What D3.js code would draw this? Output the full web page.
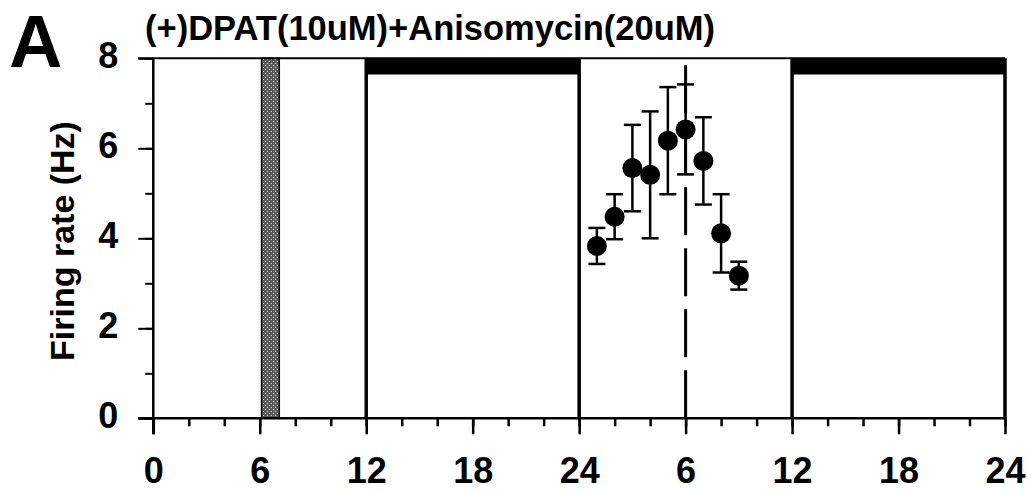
<!DOCTYPE html>
<html>
<head>
<meta charset="utf-8">
<script src="https://cdn.jsdelivr.net/npm/d3@7"></script>
<style>
  body { margin: 0; background: #fff; }
  text { font-family: "Liberation Sans", Arial, sans-serif; font-weight: bold; fill: #000; }
</style>
</head>
<body>
<script>
// data
var hours = [25, 26, 27, 28, 29, 30, 31, 32, 33];
var rate = [3.83, 4.48, 5.56, 5.41, 6.17, 6.42, 5.72, 4.11, 3.17];
var sem = [0.4, 0.5, 0.96, 1.41, 1.19, 1.0, 0.97, 0.87, 0.31];
var darkPeriods = [[12, 24], [36, 48]];
var drugPulse = [[6.1, 7.1]];
var dividers = [12, 24, 36, 48];
var dashedAt = [30];
var xTickValues = [0, 6, 12, 18, 24, 30, 36, 42, 48];
var xTickLabels = ["0", "6", "12", "18", "24", "6", "12", "18", "24"];
var yTickValues = [0, 2, 4, 6, 8];

var width = 1031, height = 491;

var svg = d3.select("body").append("svg")
    .attr("width", width)
    .attr("height", height);

var x = d3.scaleLinear().domain([0, 48]).range([153.3, 1005]);
var y = d3.scaleLinear().domain([0, 8]).range([418.3, 58.3]);

// stipple pattern for drug pulse
var pat = svg.append("defs").append("pattern")
    .attr("id", "stip")
    .attr("width", 4).attr("height", 4)
    .attr("patternUnits", "userSpaceOnUse");
pat.append("rect").attr("width", 4).attr("height", 4).attr("fill", "#5a5a5a");
pat.append("rect").attr("x", 1).attr("y", 1).attr("width", 1).attr("height", 1).attr("fill", "#fff");
pat.append("rect").attr("x", 3).attr("y", 3).attr("width", 1).attr("height", 1).attr("fill", "#ddd");

svg.selectAll(".pulse")
    .data(drugPulse)
    .enter().append("rect")
    .attr("class", "pulse")
    .attr("x", function(d) { return x(d[0]); })
    .attr("y", y(8))
    .attr("width", function(d) { return x(d[1]) - x(d[0]); })
    .attr("height", y(0) - y(8))
    .attr("fill", "url(#stip)")
    .attr("stroke", "#000")
    .attr("stroke-width", 1.5);

// black bars = dark phase
svg.selectAll(".dark")
    .data(darkPeriods)
    .enter().append("rect")
    .attr("class", "dark")
    .attr("x", function(d) { return x(d[0]); })
    .attr("y", y(8))
    .attr("width", function(d) { return x(d[1]) - x(d[0]); })
    .attr("height", y(7.64) - y(8))
    .attr("fill", "#000");

// vertical dividers
svg.selectAll(".div")
    .data(dividers)
    .enter().append("line")
    .attr("x1", function(d) { return x(d); })
    .attr("x2", function(d) { return x(d); })
    .attr("y1", y(8))
    .attr("y2", y(0))
    .attr("stroke", "#000")
    .attr("stroke-width", 3.5);

svg.selectAll(".dash")
    .data(dashedAt)
    .enter().append("line")
    .attr("x1", function(d) { return x(d); })
    .attr("x2", function(d) { return x(d); })
    .attr("y1", y(0))
    .attr("y2", y(8))
    .attr("stroke", "#000")
    .attr("stroke-width", 3)
    .attr("stroke-dasharray", "48,13");

// top border line
svg.append("line")
    .attr("x1", 138).attr("x2", x(48))
    .attr("y1", y(8)).attr("y2", y(8))
    .attr("stroke", "#000").attr("stroke-width", 2);

// x axis
var xMinor = svg.append("g")
    .attr("transform", "translate(0," + y(0) + ")")
    .call(d3.axisBottom(x).tickValues(d3.range(0, 49, 2)).tickSize(8).tickFormat(""));
var xMajor = svg.append("g")
    .attr("transform", "translate(0," + y(0) + ")")
    .call(d3.axisBottom(x).tickValues(xTickValues).tickSize(16)
        .tickFormat(function(d, i) { return xTickLabels[i]; }));
[xMinor, xMajor].forEach(function(g) {
    g.select(".domain").remove();
    g.selectAll("line").attr("stroke", "#000").attr("stroke-width", 2.5);
});
xMajor.selectAll("text")
    .attr("y", 65).attr("dy", 0)
    .style("font-size", "36px");
svg.append("line")
    .attr("x1", 138).attr("x2", x(48))
    .attr("y1", y(0)).attr("y2", y(0))
    .attr("stroke", "#000").attr("stroke-width", 2.5);

// y axis
var yMinor = svg.append("g")
    .attr("transform", "translate(" + x(0) + ",0)")
    .call(d3.axisLeft(y).tickValues(d3.range(0, 9, 1)).tickSize(8).tickFormat(""));
var yMajor = svg.append("g")
    .attr("transform", "translate(" + x(0) + ",0)")
    .call(d3.axisLeft(y).tickValues(yTickValues).tickSize(15));
[yMinor, yMajor].forEach(function(g) {
    g.select(".domain").remove();
    g.selectAll("line").attr("stroke", "#000").attr("stroke-width", 2);
});
yMajor.selectAll("text")
    .attr("x", -35).attr("y", -4).attr("dy", "0.36em")
    .style("font-size", "36px");
svg.append("line")
    .attr("x1", x(0)).attr("x2", x(0))
    .attr("y1", y(8)).attr("y2", y(0) + 16)
    .attr("stroke", "#000").attr("stroke-width", 2.5);

// error bars
var eb = svg.selectAll(".eb")
    .data(hours)
    .enter().append("g");
eb.append("line")
    .attr("x1", function(d) { return x(d); })
    .attr("x2", function(d) { return x(d); })
    .attr("y1", function(d, i) { return y(rate[i] + sem[i]); })
    .attr("y2", function(d, i) { return y(rate[i] - sem[i]); })
    .attr("stroke", "#000").attr("stroke-width", 2.5);
eb.append("line")
    .attr("x1", function(d) { return x(d) - 8.5; })
    .attr("x2", function(d) { return x(d) + 8.5; })
    .attr("y1", function(d, i) { return y(rate[i] + sem[i]); })
    .attr("y2", function(d, i) { return y(rate[i] + sem[i]); })
    .attr("stroke", "#000").attr("stroke-width", 2.5);
eb.append("line")
    .attr("x1", function(d) { return x(d) - 8.5; })
    .attr("x2", function(d) { return x(d) + 8.5; })
    .attr("y1", function(d, i) { return y(rate[i] - sem[i]); })
    .attr("y2", function(d, i) { return y(rate[i] - sem[i]); })
    .attr("stroke", "#000").attr("stroke-width", 2.5);

svg.selectAll(".pt")
    .data(hours)
    .enter().append("circle")
    .attr("cx", function(d) { return x(d); })
    .attr("cy", function(d, i) { return y(rate[i]); })
    .attr("r", 10)
    .attr("fill", "#000");

// labels
svg.append("text")
    .attr("x", 9).attr("y", 67)
    .style("font-size", "74px")
    .text("A");

svg.append("text")
    .attr("x", 145).attr("y", 40)
    .style("font-size", "34.5px")
    .text("(+)DPAT(10uM)+Anisomycin(20uM)");

svg.append("text")
    .attr("transform", "translate(74," + 241 + ") rotate(-90)")
    .attr("text-anchor", "middle")
    .style("font-size", "34px")
    .text("Firing rate (Hz)");
</script>
</body>
</html>
